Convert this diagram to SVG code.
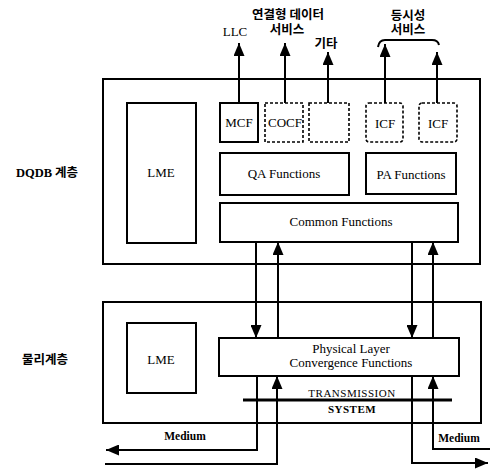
<svg xmlns="http://www.w3.org/2000/svg" width="490" height="470" viewBox="0 0 490 470">
<style>
.box{fill:none;stroke:#000;stroke-width:2}
.dbox{fill:none;stroke:#000;stroke-width:1.6;stroke-dasharray:3 2}
.ln{fill:none;stroke:#000;stroke-width:2}
.t{font-family:"Liberation Serif",serif;font-size:13px;fill:#000;text-anchor:middle}
.b{font-weight:bold}
.k{font-family:"Liberation Serif","Noto Sans CJK KR",serif;font-size:12.5px;font-weight:bold;fill:#000;text-anchor:middle}
</style>
<defs>
<marker id="ah" markerUnits="userSpaceOnUse" markerWidth="13" markerHeight="11" refX="13" refY="5.5" orient="auto">
<path d="M0,0 L13,5.5 L0,11 z" fill="#000"/>
</marker>
</defs>
<rect width="490" height="470" fill="#fff"/>

<g id="dqdb-layer">
<rect class="box" x="103" y="79" width="377" height="185"/>
<text class="k" x="47" y="177">DQDB 계층</text>
</g>
<g id="phys-layer">
<rect class="box" x="103" y="302" width="378" height="121"/>
<text class="k" x="45" y="364">물리계층</text>
</g>
<g id="lme-top"><rect class="box" x="127" y="103" width="69" height="140"/><text class="t" x="161" y="177">LME</text></g>
<g id="mcf"><rect class="box" x="220" y="103" width="38" height="39"/><text class="t" x="239" y="127">MCF</text></g>
<g id="cocf"><rect class="dbox" x="265" y="103" width="38" height="39"/><text class="t" x="285" y="127">COCF</text></g>
<g id="other"><rect class="dbox" x="309" y="103" width="40" height="39"/></g>
<g id="icf1"><rect class="dbox" x="366" y="103" width="37" height="39" rx="3"/><text class="t" x="385" y="128">ICF</text></g>
<g id="icf2"><rect class="dbox" x="419" y="103" width="38" height="39" rx="3"/><text class="t" x="438" y="128">ICF</text></g>
<g id="qa"><rect class="box" x="220" y="153" width="129" height="42"/><text class="t" x="284" y="178">QA Functions</text></g>
<g id="pa"><rect class="box" x="366" y="153" width="90" height="41"/><text class="t" x="411" y="179">PA Functions</text></g>
<g id="common"><rect class="box" x="220" y="203" width="238" height="39"/><text class="t" x="341" y="226">Common Functions</text></g>
<g id="lme-bottom"><rect class="box" x="127" y="323" width="69" height="70"/><text class="t" x="161" y="364">LME</text></g>
<g id="plcf"><rect class="box" x="219" y="338" width="240" height="38"/>
<text class="t" x="351" y="353">Physical Layer</text>
<text class="t" x="351" y="367">Convergence Functions</text></g>
<g id="transmission">
<line x1="243" y1="400" x2="452" y2="400" stroke="#000" stroke-width="3"/>
<text class="t" x="352" y="397" style="font-size:11px;letter-spacing:0.5px">TRANSMISSION</text>
<text class="t b" x="352" y="413" style="font-size:11px;letter-spacing:0.5px">SYSTEM</text>
</g>
<g id="labels">
<text class="t" x="235" y="36">LLC</text>
<text class="k" x="288" y="19">연결형 데이터</text>
<text class="k" x="287" y="34">서비스</text>
<text class="k" x="326" y="48">기타</text>
<text class="k" x="408" y="20">등시성</text>
<text class="k" x="408" y="34">서비스</text>
<text class="t b" x="185" y="440" style="font-size:11.5px">Medium</text>
<text class="t b" x="459" y="442" style="font-size:11.5px">Medium</text>
</g>
<g id="connectors">
<path class="ln" d="M239 103 V43" marker-end="url(#ah)"/>
<path class="ln" d="M285 103 V43" marker-end="url(#ah)"/>
<path class="ln" d="M328 103 V52" marker-end="url(#ah)"/>
<path class="ln" d="M385 103 V44" marker-end="url(#ah)"/>
<path class="ln" d="M437 103 V52" marker-end="url(#ah)"/>
<path class="ln" d="M378 47 Q379 40 385 40 H432 Q438 40 439 45" stroke-width="1.8"/>
<path class="ln" d="M256 242 V338" marker-end="url(#ah)"/>
<path class="ln" d="M278 338 V242" marker-end="url(#ah)"/>
<path class="ln" d="M412 242 V338" marker-end="url(#ah)"/>
<path class="ln" d="M433 338 V242" marker-end="url(#ah)"/>
<path class="ln" d="M257 376 V450 H106" marker-end="url(#ah)"/>
<path class="ln" d="M105 464 H277 V376" marker-end="url(#ah)"/>
<path class="ln" d="M412 376 V463 H488" marker-end="url(#ah)"/>
<path class="ln" d="M490 449 H433 V376" marker-end="url(#ah)"/>
</g>
</svg>
